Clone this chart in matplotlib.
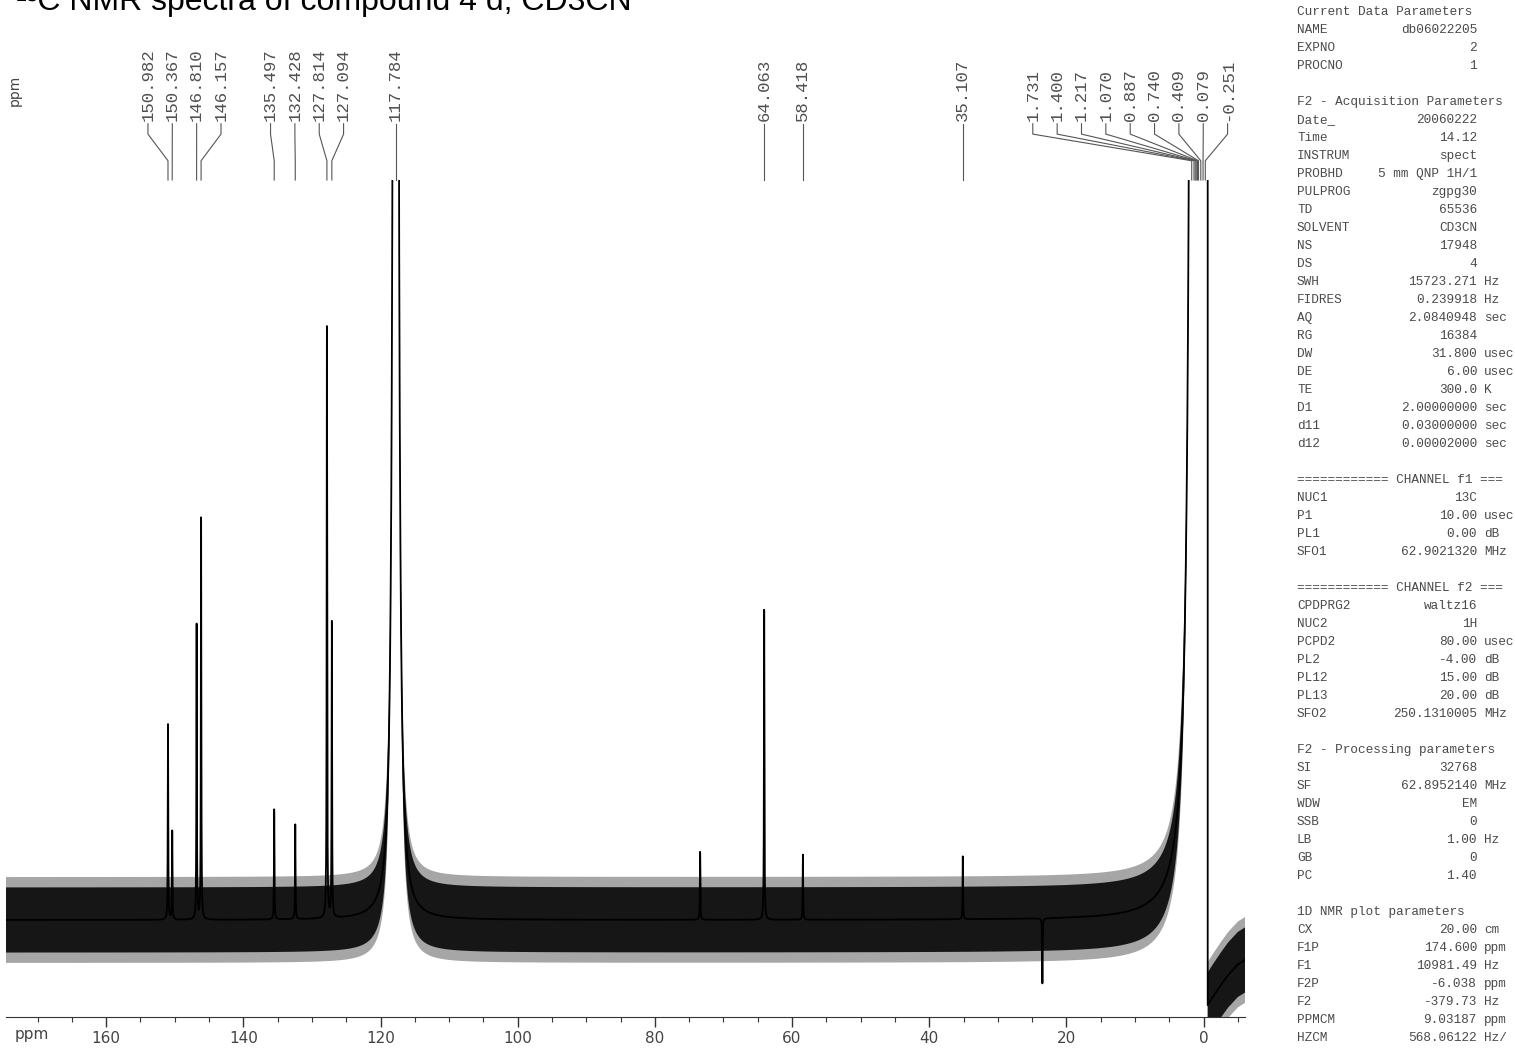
import numpy as np
import matplotlib
matplotlib.use("Agg")
import matplotlib.pyplot as plt

# peak list (ppm) printed above the trace, heights
# (the solvent lines at 117.8 and the CD3CN septet run off the top, so guessed)
peak_ppm = [150.982, 150.367, 146.810, 146.157, 135.497, 132.428, 127.814, 127.094,
            117.784, 64.063, 58.418, 35.107,
            1.731, 1.400, 1.217, 1.070, 0.887, 0.740, 0.409, 0.079, -0.251]
peak_height = [26.4, 12.0, 39.9, 54.3, 14.9, 12.8, 80.1, 39.9,
               3000, 41.9, 8.8, 8.5,
               400, 1200, 2000, 2600, 2800, 2600, 2000, 1200, 400]
peak_hwhm = [0.04] * 8 + [0.09] + [0.04] * 3 + [0.09] * 9

# unlabelled spikes (one positive, one negative)
extra_ppm = [73.4, 23.5]
extra_height = [9.2, -8.8]

# baseline right of 0 ppm (phase dip)
tail_ppm = [-0.6, -1.2, -2.5, -3.6, -5.0, -6.038]
tail_level = [-11.5, -10.6, -8.8, -7.4, -6.0, -5.4]
noise_core = 4.4
noise_spikes = 5.8

x_ticks = [160, 140, 120, 100, 80, 60, 40, 20, 0]

title = "¹³C NMR spectra of compound 4 d, CD3CN"

params = [
    ("Current Data Parameters", None, None),
    ("NAME", "db06022205", ""),
    ("EXPNO", "2", ""),
    ("PROCNO", "1", ""),
    ("", None, None),
    ("F2 - Acquisition Parameters", None, None),
    ("Date_", "20060222", ""),
    ("Time", "14.12", ""),
    ("INSTRUM", "spect", ""),
    ("PROBHD", "5 mm QNP 1H/1", ""),
    ("PULPROG", "zgpg30", ""),
    ("TD", "65536", ""),
    ("SOLVENT", "CD3CN", ""),
    ("NS", "17948", ""),
    ("DS", "4", ""),
    ("SWH", "15723.271", "Hz"),
    ("FIDRES", "0.239918", "Hz"),
    ("AQ", "2.0840948", "sec"),
    ("RG", "16384", ""),
    ("DW", "31.800", "usec"),
    ("DE", "6.00", "usec"),
    ("TE", "300.0", "K"),
    ("D1", "2.00000000", "sec"),
    ("d11", "0.03000000", "sec"),
    ("d12", "0.00002000", "sec"),
    ("", None, None),
    ("============ CHANNEL f1 ===", None, None),
    ("NUC1", "13C", ""),
    ("P1", "10.00", "usec"),
    ("PL1", "0.00", "dB"),
    ("SFO1", "62.9021320", "MHz"),
    ("", None, None),
    ("============ CHANNEL f2 ===", None, None),
    ("CPDPRG2", "waltz16", ""),
    ("NUC2", "1H", ""),
    ("PCPD2", "80.00", "usec"),
    ("PL2", "-4.00", "dB"),
    ("PL12", "15.00", "dB"),
    ("PL13", "20.00", "dB"),
    ("SFO2", "250.1310005", "MHz"),
    ("", None, None),
    ("F2 - Processing parameters", None, None),
    ("SI", "32768", ""),
    ("SF", "62.8952140", "MHz"),
    ("WDW", "EM", ""),
    ("SSB", "0", ""),
    ("LB", "1.00", "Hz"),
    ("GB", "0", ""),
    ("PC", "1.40", ""),
    ("", None, None),
    ("1D NMR plot parameters", None, None),
    ("CX", "20.00", "cm"),
    ("F1P", "174.600", "ppm"),
    ("F1", "10981.49", "Hz"),
    ("F2P", "-6.038", "ppm"),
    ("F2", "-379.73", "Hz"),
    ("PPMCM", "9.03187", "ppm"),
    ("HZCM", "568.06122", "Hz/"),
]


def lorentz(x, pos, h, w):
    return h * w ** 2 / ((x - pos) ** 2 + w ** 2)


W, H = 1515, 1048
fig = plt.figure(figsize=(W / 100, H / 100), dpi=100)
ax = fig.add_axes([6 / W, 1 - 1017 / H, 1239 / W, (1017 - 180) / H])

x = np.linspace(174.6, -0.6, 40000)
total = np.zeros_like(x)
solvent = np.zeros_like(x)
for p, h, w in zip(peak_ppm, peak_height, peak_hwhm):
    s = lorentz(x, p, h, w)
    total += s
    if w > 0.05:
        solvent += s
for p, h in zip(extra_ppm, extra_height):
    total += lorentz(x, p, h, 0.04)

xs = np.concatenate([x, tail_ppm])
ys = np.concatenate([total, tail_level])
center = np.concatenate([solvent, tail_level])

ax.fill_between(xs, center - noise_spikes, center + noise_spikes, color="#3a3a3a",
                alpha=0.45, lw=0)
ax.fill_between(xs, center - noise_core, center + noise_core, color="#161616", lw=0)
ax.plot(xs, ys, color="black", lw=1.3)

ax.set_xlim(174.6, -6.038)
ax.set_ylim(-13.1, 100)
for s in ["top", "left", "right"]:
    ax.spines[s].set_visible(False)
ax.spines["bottom"].set_color("#333333")
ax.set_yticks([])
ax.set_xticks(x_ticks)
ax.set_xticklabels([str(t) for t in x_ticks])
ax.set_xticks(np.arange(170, -6, -5), minor=True)
ax.tick_params(axis="x", which="major", length=7, width=1, color="#333333",
               labelsize=11, labelcolor="#444444", pad=3)
ax.tick_params(axis="x", which="minor", length=3.5, width=0.8, color="#333333")

# peak labels with leader lines, grouped like the printout
spacing = 3.55
order = sorted(range(len(peak_ppm)), key=lambda i: -peak_ppm[i])
groups = [[order[0]]]
for i in order[1:]:
    if peak_ppm[groups[-1][-1]] - peak_ppm[i] > 5:
        groups.append([i])
    else:
        groups[-1].append(i)

for g in groups:
    n = len(g)
    mid = np.mean([peak_ppm[i] for i in g])
    pos = [mid + spacing * ((n - 1) / 2 - k) for k in range(n)]
    if pos[-1] < -3.5:
        pos = [p + (-3.5 - pos[-1]) for p in pos]
    for i, lx in zip(g, pos):
        px = peak_ppm[i]
        ax.plot([lx, lx, px, px], [107.6, 106.2, 102.6, 100.0], color="#555555",
                lw=0.8, clip_on=False)
        ax.text(lx, 108.0, f"{px:.3f}", rotation=90, ha="center", va="bottom",
                family="Liberation Mono", fontsize=12.5, color="#505050", clip_on=False)

fig.text(15 / W, 1 - 90 / H, "ppm", rotation=90, ha="center", va="center",
         family="DejaVu Sans", fontsize=10, color="#444444")
fig.text(15 / W, 1 - 1034 / H, "ppm", ha="left", va="center",
         family="DejaVu Sans", fontsize=11, color="#444444")

# title sits half off the top edge, as in the scan
fig.text(16 / W, 1 - 10 / H, title, ha="left", va="baseline",
         family="Liberation Sans", fontsize=23, color="black")

# acquisition/processing parameter block
for k, (name, val, unit) in enumerate(params):
    y = 1 - (12 + 18.0 * k) / H
    fig.text(1297 / W, y, name, ha="left", va="center", family="Liberation Mono",
             fontsize=9.2, color="#4a4a4a")
    if val:
        fig.text(1477 / W, y, val, ha="right", va="center", family="Liberation Mono",
                 fontsize=9.2, color="#4a4a4a")
    if unit:
        fig.text(1484 / W, y, unit, ha="left", va="center", family="Liberation Mono",
                 fontsize=9.2, color="#4a4a4a")

fig.savefig("out.png", dpi=100)
